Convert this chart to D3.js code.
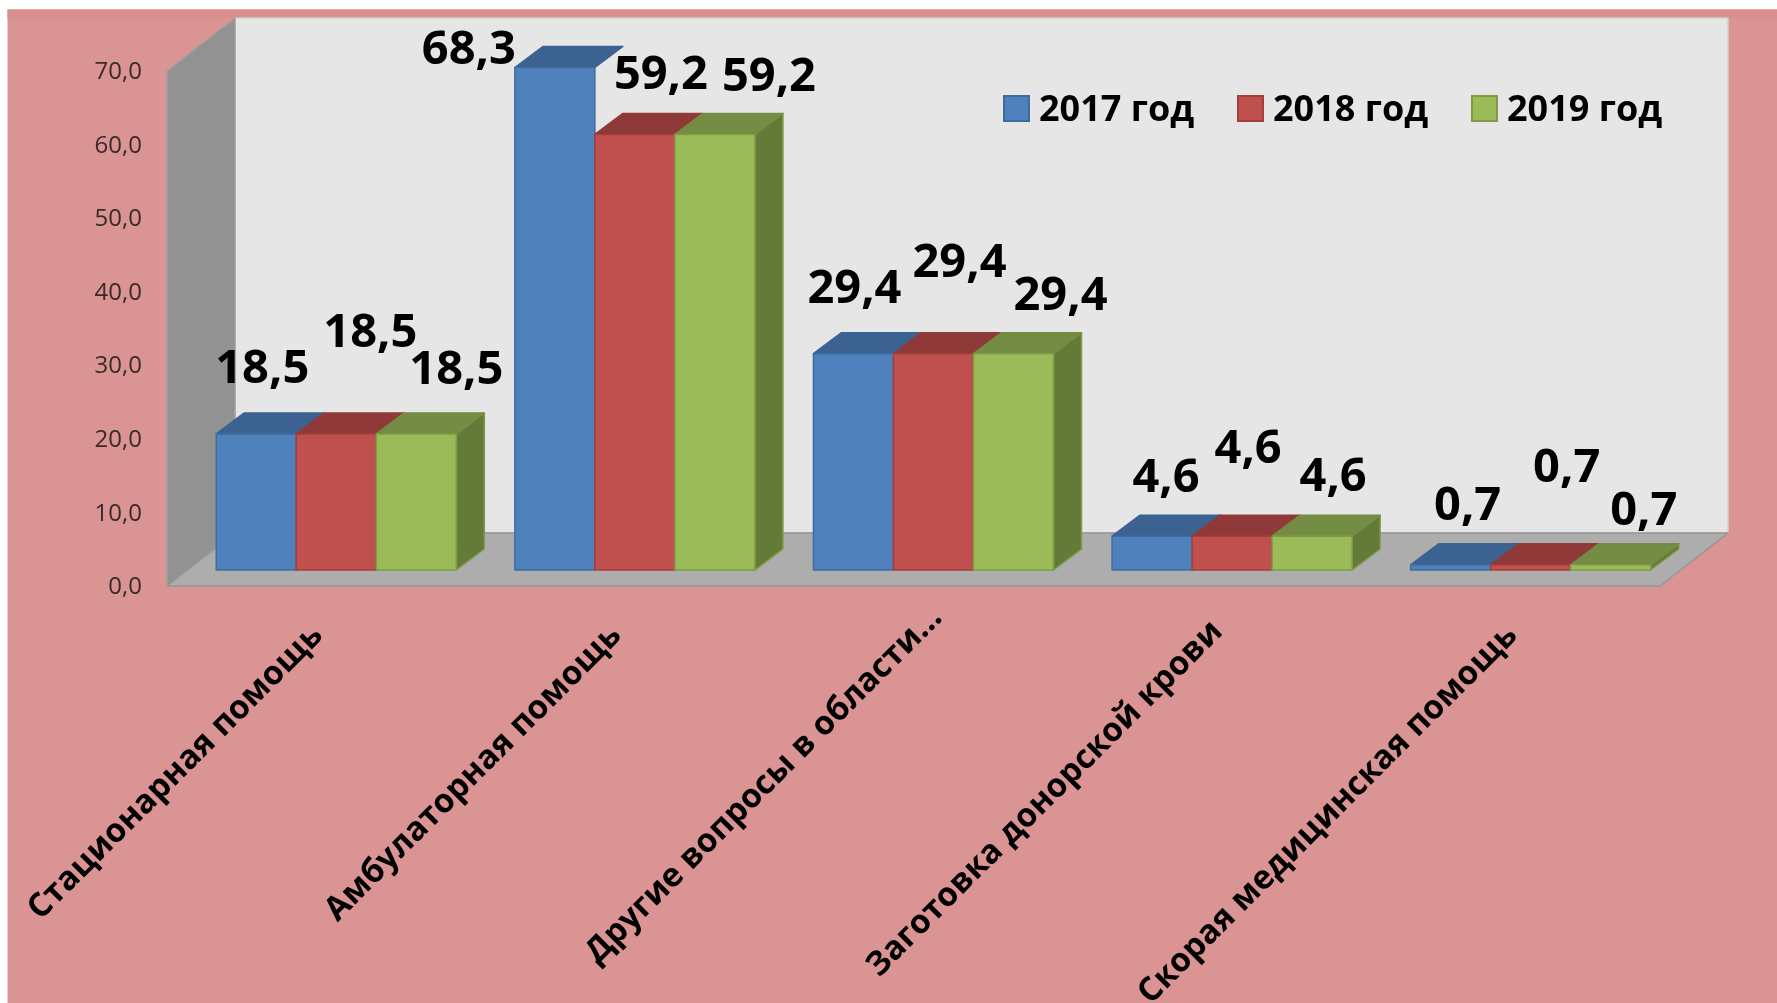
<!DOCTYPE html>
<html><head><meta charset="utf-8">
<script src="https://cdn.jsdelivr.net/npm/d3@7"></script>
<style>html,body{margin:0;padding:0;background:#fff}svg{display:block;filter:blur(0.5px)}text{font-family:"Open Sans",sans-serif}</style>
</head><body><svg id="c" width="1777" height="1003"></svg>
<script>
const categories = ["Стационарная помощь","Амбулаторная помощь","Другие вопросы в области…","Заготовка донорской крови","Скорая медицинская помощь"];
const seriesNames = ["2017 год","2018 год","2019 год"];
const values2017 = [18.5,68.3,29.4,4.6,0.7];
const values2018 = [18.5,59.2,29.4,4.6,0.7];
const values2019 = [18.5,59.2,29.4,4.6,0.7];
const yTicks = [0,10,20,30,40,50,60,70];
const seriesValues = [values2017,values2018,values2019];

// hand-placed data-label nudges in the reference (px from the default spot above the bar)
const labelNudgeX = [[-8,20,26],[-100,12,40],[-13,12,33],[0,2,7],[3,22,19]];
const labelNudgeY = [[-8,-44,-7],[39,-2,0],[-8,-34,-1],[-1,-30,-2],[-2,-40,3]];
const catNudgeX = [0,0,22,4,0];
const catNudgeY = [0,0,-18,-4,0];

const palette = [
 {front:"#4F81BD",top:"#3B6290",side:"#32557E",edge:"#3F6C9F"},
 {front:"#C0504D",top:"#8F3A38",side:"#7F3331",edge:"#A23F3C"},
 {front:"#9BBB59",top:"#748C43",side:"#647A38",edge:"#7F9C45"}];

const svg = d3.select("#c");
const W=1777,H=1003;
const floorX0=167, floorX1=1660, floorY=586, wallDX=68, wallDY=53;
const barShiftX=20, barShiftY=16, depthX=28, depthY=21;

const x = d3.scaleBand().domain(categories).range([floorX0,floorX1]).paddingInner(0.196).paddingOuter(0.098);
const xs = d3.scaleBand().domain(d3.range(3)).range([0,x.bandwidth()]);
const y = d3.scaleLinear().domain([0,70]).range([floorY,71]);

svg.append("rect").attr("x",7.5).attr("y",9.5).attr("width",W).attr("height",H).attr("fill","#DA9493");
svg.append("rect").attr("x",7.5).attr("y",9.5).attr("width",W).attr("height",9).attr("fill","#D98F8E");

const pg=(pts,fill,stroke)=>svg.append("path").attr("d","M"+pts.map(p=>p.join(",")).join("L")+"Z").attr("fill",fill).attr("stroke",stroke||"none").attr("stroke-width",1.5).attr("stroke-linejoin","round");

// walls + floor
pg([[floorX0+wallDX,y(70)-wallDY],[floorX1+wallDX,y(70)-wallDY],[floorX1+wallDX,floorY-wallDY],[floorX0+wallDX,floorY-wallDY]],"#E6E6E6","#D0D0D0");
pg([[floorX0,y(70)],[floorX0+wallDX,y(70)-wallDY],[floorX0+wallDX,floorY-wallDY],[floorX0,floorY]],"#929292","#A0A0A0");
pg([[floorX0,floorY],[floorX0+wallDX,floorY-wallDY],[floorX1+wallDX,floorY-wallDY],[floorX1,floorY]],"#ADADAD","#959595");

// axis
const ax = svg.append("g").attr("transform",`translate(${floorX0},0)`)
 .call(d3.axisLeft(y).tickValues(yTicks).tickSize(0).tickPadding(25).tickFormat(d=>d3.format(".1f")(d).replace(".",",")));
ax.select(".domain").remove();
ax.selectAll("text").attr("font-size",24).attr("fill","#3a2a2a").style("font-family",'"Open Sans",sans-serif');

// bars
categories.forEach((c,ci)=>{
 seriesValues.forEach((vals,si)=>{
  const v=vals[ci], col=palette[si];
  const x0=x(c)+xs(si)+barShiftX, x1=x0+xs.bandwidth();
  const yB=y(0)-barShiftY, yT=y(v)-barShiftY;
  if(si===2) pg([[x1,yB],[x1+depthX,yB-depthY],[x1+depthX,yT-depthY],[x1,yT]],col.side,col.edge);
  pg([[x0,yT],[x0+depthX,yT-depthY],[x1+depthX,yT-depthY],[x1,yT]],col.top,col.top);
  pg([[x0,yB],[x0,yT],[x1,yT],[x1,yB]],col.front,col.edge);
 });
});

// data labels
categories.forEach((c,ci)=>{
 seriesValues.forEach((vals,si)=>{
  const v=vals[ci];
  svg.append("text")
   .attr("x",x(c)+xs(si)+barShiftX+xs.bandwidth()/2+depthX/2+labelNudgeX[ci][si])
   .attr("y",y(v)-barShiftY-depthY-22+labelNudgeY[ci][si])
   .attr("text-anchor","middle").attr("font-size",47).attr("font-weight",700).attr("fill","#000")
   .text(String(v).replace(".",","));
 });
});

// category labels
categories.forEach((c,ci)=>{
 const px=x(c)+x.bandwidth()/2+barShiftX-12+catNudgeX[ci], py=637+catNudgeY[ci];
 svg.append("text").attr("transform",`translate(${px},${py}) rotate(-45)`)
  .attr("text-anchor","end").attr("font-size",33).attr("font-weight",700).attr("fill","#000").text(c);
});

// legend
const legendX=d3.scalePoint().domain(seriesNames).range([1004,1472]);
seriesNames.forEach((s,i)=>{
 const lx=legendX(s);
 svg.append("rect").attr("x",lx).attr("y",96).attr("width",25).attr("height",25).attr("fill",palette[i].front).attr("stroke",palette[i].edge).attr("stroke-width",2);
 svg.append("text").attr("x",lx+35).attr("y",121).attr("font-size",36).attr("font-weight",700).attr("fill","#000").text(s);
});
</script></body></html>
